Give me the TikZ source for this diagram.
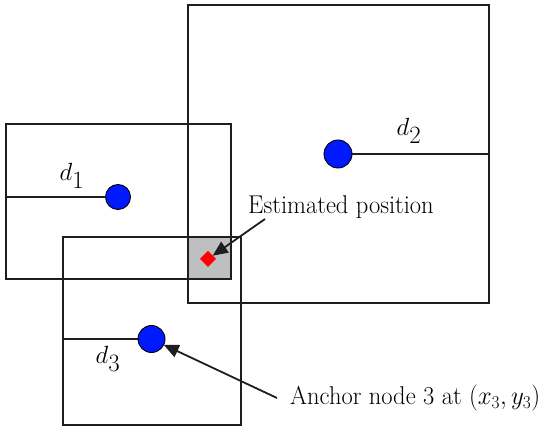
\documentclass[tikz,border=0pt]{standalone}
\usetikzlibrary{arrows.meta,shapes.geometric}
\definecolor{interfill}{RGB}{190,191,193}
\definecolor{anchorblue}{RGB}{0,25,255}
\definecolor{edgegray}{RGB}{30,30,30}
\begin{document}
\begin{tikzpicture}[x=1pt,y=-1pt,
  boxline/.style={draw=edgegray,line width=1.8pt},
  anchordot/.style={circle,fill=anchorblue,draw=black,line width=0.9pt,inner sep=0pt,outer sep=0pt,minimum size=#1},
  lbl/.style={font=\fontsize{24.5}{28}\selectfont,inner sep=0pt},
  dlbl/.style={font=\fontsize{34}{38}\selectfont,inner sep=0pt},
  pointer/.style={draw=edgegray,line width=1.8pt,-{Triangle[length=15pt,width=13pt]}}
]
\useasboundingbox (0,0) rectangle (550,446);
\fill[interfill] (188,237) rectangle (231,279);
\draw[boxline] (6,124) rectangle (231,279);
\draw[boxline] (188,5) rectangle (489,303);
\draw[boxline] (63,237) rectangle (241,425);
\node[anchordot=25pt] (a1) at (118,197) {};
\node[anchordot=28pt] (a2) at (338,154) {};
\node[anchordot=27pt] (a3) at (151.5,339) {};
\coordinate (w1) at (6,197);
\coordinate (e2) at (489,154);
\coordinate (w3) at (63,339);
\draw[boxline] (w1) -- (a1);
\draw[boxline] (a2) -- (e2);
\draw[boxline] (w3) -- (a3);
\node[dlbl] (d1) at (72,176) {$d_1$};
\node[dlbl] (d2) at (409,131) {$d_2$};
\node[dlbl] (d3) at (108,359) {$d_3$};
\node[diamond,aspect=1,fill=red,minimum size=16pt,inner sep=0pt,outer sep=0pt] (est) at (208,259) {};
\node[lbl,anchor=base west] (esttxt) at (248,214) {\scalebox{1}[1.05]{Estimated position}};
\node[lbl,anchor=base west] (anctxt) at (290,405) {\scalebox{1}[1.05]{Anchor node 3 at $(x_3,y_3)$}};
\draw[pointer] ([xshift=17pt,yshift=-5pt]esttxt.base west) -- (est);
\draw[pointer] ([xshift=-13pt,yshift=7pt]anctxt.base west) -- (a3);
\end{tikzpicture}
\end{document}
